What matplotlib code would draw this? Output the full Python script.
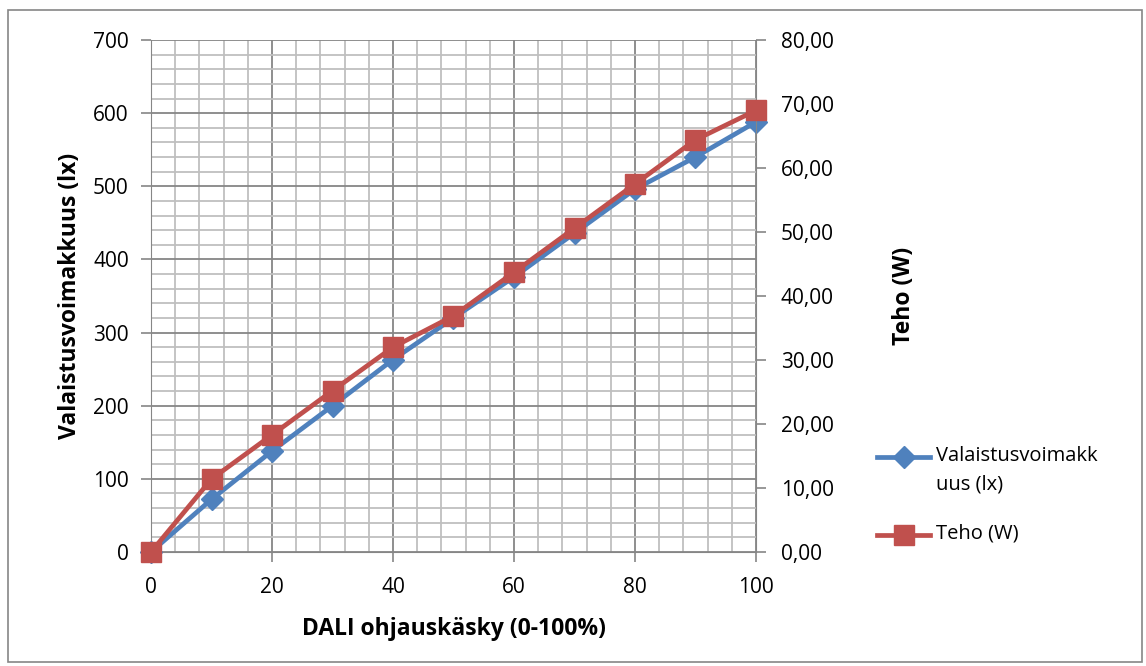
import matplotlib.pyplot as plt
from matplotlib.ticker import MultipleLocator, FuncFormatter
from matplotlib.patches import Rectangle
from matplotlib.lines import Line2D

# DALI-ohjauskäsky vs. valaistusvoimakkuus ja teho
ohjaus = [0, 10, 20, 30, 40, 50, 60, 70, 80, 90, 100]
valaistus = [0, 72, 138, 200, 263, 320, 376, 436, 496, 540, 588]
teho = [0.0, 11.4, 18.3, 25.2, 32.0, 36.9, 43.7, 50.6, 57.5, 64.4, 69.0]

sininen = '#4F81BD'
punainen = '#C0504D'
harmaa = '#868686'
plt.rcParams['font.family'] = ['Open Sans', 'DejaVu Sans']

W, H = 1146, 666
fig = plt.figure(figsize=(W / 100, H / 100), dpi=100)
ax = fig.add_axes([151 / W, 1 - 552 / H, 605 / W, 512 / H])
ax2 = ax.twinx()

# ruudukko: pääviivat tummemmat, apuviivat vaaleammat
ax.set_xlim(0, 100)
ax.set_ylim(0, 700)
ax.xaxis.set_major_locator(MultipleLocator(20))
ax.xaxis.set_minor_locator(MultipleLocator(4))
ax.yaxis.set_major_locator(MultipleLocator(100))
ax.yaxis.set_minor_locator(MultipleLocator(20))
ax.grid(which='major', color=harmaa, linewidth=1.3)
ax.grid(which='minor', color='#BFBFBF', linewidth=1.3)
ax.set_axisbelow(True)

ax2.set_ylim(0, 80)
ax2.yaxis.set_major_locator(MultipleLocator(10))
ax2.yaxis.set_major_formatter(FuncFormatter(lambda v, p: f'{v:.2f}'.replace('.', ',')))

for a in (ax, ax2):
    for s in a.spines.values():
        s.set_visible(False)
ax.spines['left'].set_visible(True)
ax.spines['left'].set_color(harmaa)
ax.spines['bottom'].set_visible(True)
ax.spines['bottom'].set_color(harmaa)
ax2.spines['right'].set_visible(True)
ax2.spines['right'].set_color(harmaa)

ax.tick_params(which='major', length=7, width=1.2, color=harmaa, labelsize=15, pad=9)
ax.tick_params(axis='x', pad=11)
ax.tick_params(which='minor', length=0)
ax2.tick_params(length=7, width=1.2, color=harmaa, labelsize=15, pad=11)

ax.plot(ohjaus, valaistus, color=sininen, linewidth=3.4, marker='D',
        markersize=11, zorder=3, clip_on=False)
ax2.plot(ohjaus, teho, color=punainen, linewidth=3.4, marker='s',
         markersize=14, zorder=3, clip_on=False)

ax.set_xlabel('DALI ohjauskäsky (0-100%)', fontsize=16.5, fontweight='bold', labelpad=14)
ax.set_ylabel('Valaistusvoimakkuus (lx)', fontsize=16.5, fontweight='bold', labelpad=8)
ax2.set_ylabel('Teho (W)', fontsize=16.5, fontweight='bold', labelpad=42)

# selite piirretään käsin, jotta viiva osuu ensimmäisen rivin kohdalle
selite = [
    (sininen, 'D', 11, 457, 'Valaistusvoimakk\nuus (lx)'),
    (punainen, 's', 14, 535, 'Teho (W)'),
]
for vari, merkki, koko, y, teksti in selite:
    yf = 1 - y / H
    fig.add_artist(Line2D([877 / W, 903.5 / W, 930 / W], [yf, yf, yf],
                          transform=fig.transFigure, color=vari, linewidth=3.4,
                          marker=merkki, markersize=koko, markevery=[1]))
    fig.text(936 / W, 1 - (y - 11) / H, teksti, fontsize=14.5, va='top',
             linespacing=1.55)

fig.patches.append(Rectangle((8 / W, 4 / H), 1134 / W, 652 / H,
                             transform=fig.transFigure, fill=False,
                             edgecolor=harmaa, linewidth=1.2))

fig.savefig('out.png', dpi=100)
